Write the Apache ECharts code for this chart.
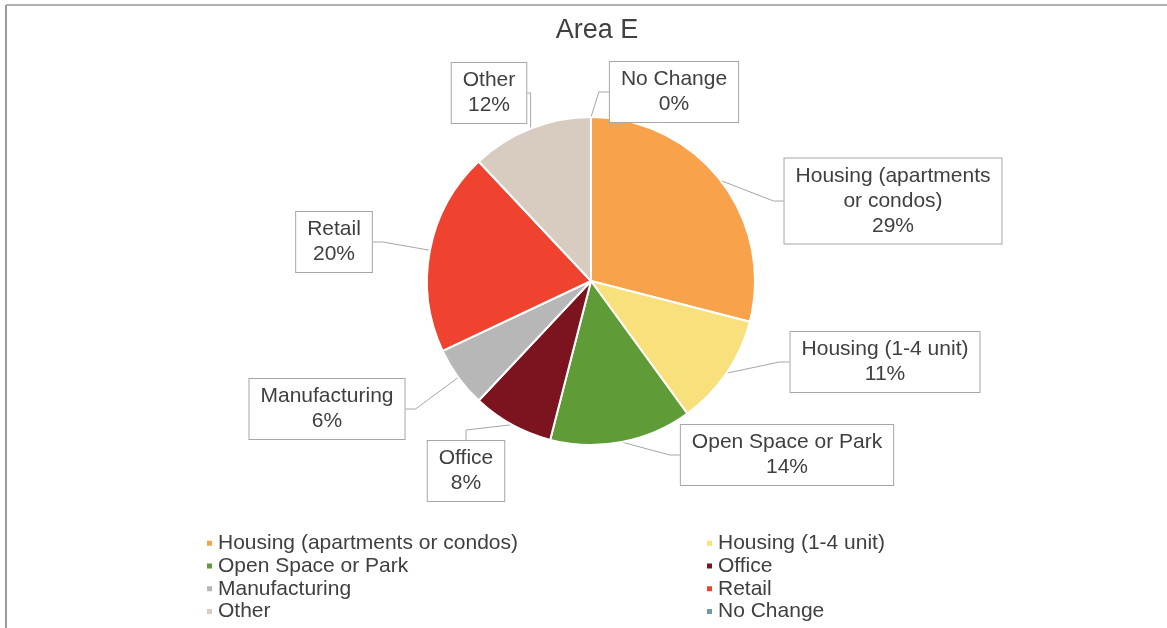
<!DOCTYPE html>
<html>
<head>
<meta charset="utf-8">
<script src="https://cdn.jsdelivr.net/npm/echarts@6/dist/echarts.min.js"></script>
<style>
  html, body { margin: 0; background: #fff; }
  #main { width: 1167px; height: 628px; }
</style>
</head>
<body>
<div id="main"></div>
<script>
const categories = [
  "Housing (apartments or condos)",
  "Housing (1-4 unit)",
  "Open Space or Park",
  "Office",
  "Manufacturing",
  "Retail",
  "Other",
  "No Change"
];
const shares = [29, 11, 14, 8, 6, 20, 12, 0];
const sliceColors = ["#F8A24C", "#F8E07C", "#5F9B36", "#7C1420", "#B7B7B7", "#F0432F", "#D8CCC0", "#6E9AA5"];

// centre of each callout box, the way the labels were dragged in the original
const calloutSpots = [[893, 201], [885, 362], [787, 455], [466, 471], [327, 409], [334, 242], [489, 93], [674, 92]];

const textColor = "#404040";
const font = "Liberation Sans, Arial, sans-serif";

let mychart = echarts.init(document.getElementById("main"));

let legendBase = {
  orient: "vertical",
  top: 532,
  height: 120,
  padding: 0,
  icon: "rect",
  itemWidth: 7,
  itemHeight: 7,
  itemGap: 0.5,
  textStyle: { fontSize: 21, lineHeight: 22.3, color: textColor, fontFamily: font }
};

let option = {
  backgroundColor: "#fff",
  color: sliceColors,
  title: {
    text: "Area E",
    left: 592,
    textAlign: "center",
    top: 12,
    textStyle: { fontSize: 27, fontWeight: "normal", color: textColor, fontFamily: font }
  },
  graphic: [
    { type: "line", shape: { x1: 6, y1: 5, x2: 6, y2: 628 }, style: { stroke: "#9a9a9a", lineWidth: 2 } },
    { type: "line", shape: { x1: 6, y1: 5, x2: 1167, y2: 5 }, style: { stroke: "#9a9a9a", lineWidth: 1.5 } }
  ],
  legend: [
    Object.assign({ left: 205, data: categories.filter((c, i) => i % 2 === 0) }, legendBase),
    Object.assign({ left: 705, data: categories.filter((c, i) => i % 2 === 1) }, legendBase)
  ],
  series: [
    {
      type: "pie",
      center: [591, 281],
      radius: 164,
      startAngle: 90,
      clockwise: true,
      avoidLabelOverlap: false,
      itemStyle: { borderColor: "#fff", borderWidth: 2 },
      label: {
        show: true,
        position: "outside",
        formatter: p => p.name.replace("apartments ", "apartments\n") + "\n" + p.value + "%",
        color: textColor,
        fontSize: 21,
        lineHeight: 25,
        fontFamily: font,
        align: "center",
        backgroundColor: "#fff",
        borderColor: "#a6a6a6",
        borderWidth: 1,
        padding: [5, 11]
      },
      labelLine: {
        show: true,
        length: 10,
        length2: 10,
        lineStyle: { color: "#a6a6a6", width: 1 }
      },
      labelLayout: params => {
        let spot = calloutSpots[params.dataIndex];
        return { x: spot[0], y: spot[1], align: "center", verticalAlign: "middle" };
      },
      data: categories.map((name, i) => ({ name: name, value: shares[i] }))
    }
  ]
};

mychart.setOption(option);
</script>
</body>
</html>
